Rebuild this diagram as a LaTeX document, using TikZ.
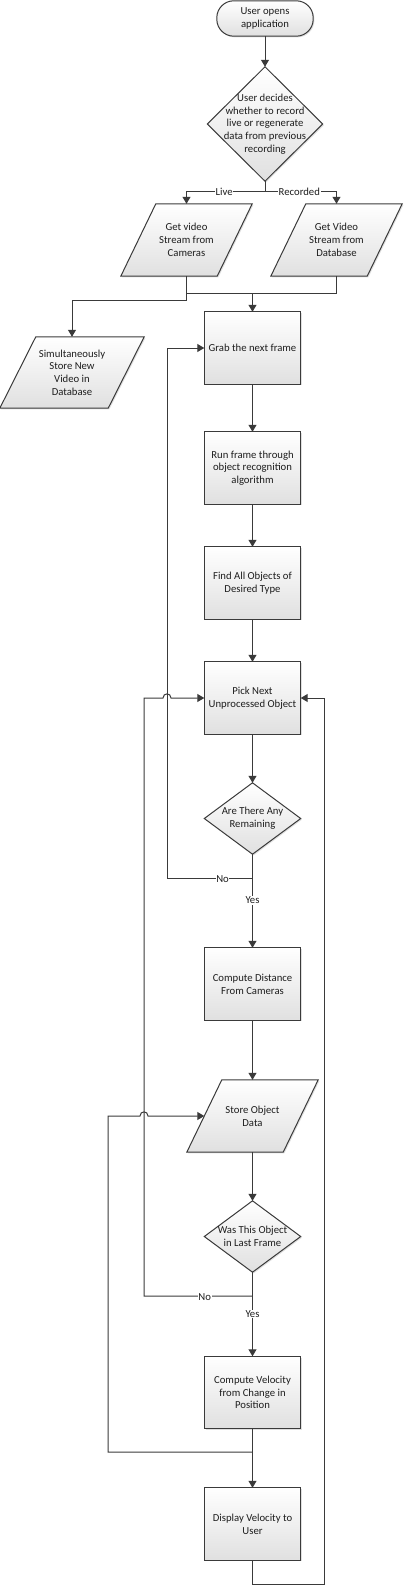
\documentclass[tikz,border=0pt]{standalone}
\usepackage{fontspec}
\setmainfont{Carlito}
\usetikzlibrary{arrows.meta,shadows}
\definecolor{ln}{HTML}{3A3A3A}
\definecolor{tx}{HTML}{1E1E1E}
\definecolor{fillbot}{HTML}{E0E0E0}
\tikzset{
  holder/.style={draw=none,inner sep=0pt,align=center,text=tx,font=\fontsize{10.7}{12.7}\selectfont},
  shp/.style={draw=ln,line width=1pt,top color=white,bottom color=fillbot,
     drop shadow={shadow xshift=1.2pt,shadow yshift=-1.2pt,opacity=0.25,fill=gray}},
  conn/.style={draw=ln,line width=1pt},
  arr/.style={conn,-{Triangle[width=8pt,length=7pt]}},
  lbl/.style={fill=white,inner sep=0.8pt,text=tx,font=\fontsize{10.7}{12}\selectfont}
}
\begin{document}
\begin{tikzpicture}[x=1pt,y=-1pt]
\useasboundingbox (0,0) rectangle (405,1586);
% ---------- nodes (holders) ----------
\node[holder,minimum width=96,minimum height=35] (start) at (265,18.5) {};
\node[holder,minimum width=115,minimum height=114] (dec) at (265,124) {};
\node[holder,minimum width=131,minimum height=72] (cam) at (186.5,240) {};
\node[holder,minimum width=131,minimum height=72] (db) at (336.5,240) {};
\node[holder,minimum width=144,minimum height=71] (store) at (72,372.5) {};
\node[holder,minimum width=96,minimum height=72] (grab) at (252.5,348) {};
\node[holder,minimum width=96,minimum height=72] (run) at (252.5,468) {};
\node[holder,minimum width=96,minimum height=72] (find) at (252.5,583) {};
\node[holder,minimum width=96,minimum height=72] (pick) at (252.5,698) {};
\node[holder,minimum width=96,minimum height=71] (rem) at (252.5,818.5) {};
\node[holder,minimum width=96,minimum height=72] (dist) at (252.5,984) {};
\node[holder,minimum width=131,minimum height=72] (sod) at (252.5,1116) {};
\node[holder,minimum width=96,minimum height=71] (last) at (252.5,1236.5) {};
\node[holder,minimum width=96,minimum height=72] (vel) at (252.5,1392.5) {};
\node[holder,minimum width=96,minimum height=72] (disp) at (252.5,1524) {};
% ---------- shapes ----------
\path[shp,rounded corners=17pt] (start.north west) rectangle (start.south east);
\path[shp] (dec.north) -- (dec.east) -- (dec.south) -- (dec.west) -- cycle;
\foreach \n in {cam,db,sod}{
  \path[shp] ([xshift=35]\n.north west) -- (\n.north east) -- ([xshift=-35]\n.south east) -- (\n.south west) -- cycle;
}
\path[shp] ([xshift=36]store.north west) -- (store.north east) -- ([xshift=-36]store.south east) -- (store.south west) -- cycle;
\foreach \n in {grab,run,find,pick,dist,vel,disp}{
  \path[shp] (\n.north west) rectangle (\n.south east);
}
\path[shp] (rem.north) -- (rem.east) -- (rem.south) -- (rem.west) -- cycle;
\path[shp] (last.north) -- (last.east) -- (last.south) -- (last.west) -- cycle;
% ---------- texts ----------
\node[holder] at (start) {User opens\\application};
\node[holder] at (dec) {User decides\\whether to record\\live or regenerate\\data from previous\\recording};
\node[holder] at (cam) {Get video\\Stream from\\Cameras};
\node[holder] at (db) {Get Video\\Stream from\\Database};
\node[holder] at (store) {Simultaneously\\Store New\\Video in\\Database};
\node[holder] at (grab) {Grab the next frame};
\node[holder] at (run) {Run frame through\\object recognition\\algorithm};
\node[holder] at (find) {Find All Objects of\\Desired Type};
\node[holder] at (pick) {Pick Next\\Unprocessed Object};
\node[holder] at (rem) {Are There Any\\Remaining};
\node[holder] at (dist) {Compute Distance\\From Cameras};
\node[holder] at (sod) {Store Object\\Data};
\node[holder] at (last) {Was This Object\\in Last Frame};
\node[holder] at (vel) {Compute Velocity\\from Change in\\Position};
\node[holder] at (disp) {Display Velocity to\\User};
% ---------- junction coordinates ----------
\coordinate (br) at (265,192);
\coordinate (j1) at (252.5,294);
\coordinate (j2) at (186.5,301);
\coordinate (n1) at (252.5,878);
\coordinate (n2) at (252.5,1296);
\coordinate (v1) at (252.5,1452);
\coordinate (d1) at (252.5,1584);
% ---------- connectors ----------
\draw[arr] (start) -- (dec.north);
\draw[arr] (dec.south) -- (br) -| node[lbl,pos=0.26] {Live} (cam.north);
\draw[arr] (br) -| node[lbl,pos=0.24] {Recorded} (db.north);
\draw[conn] (cam.south) |- (j1);
\draw[conn] (db.south) |- (j1);
\draw[arr] (cam.south) -- (j2) -| (store.north);
\draw[arr] (j1) -- (grab.north);
\draw[arr] (grab) -- (run);
\draw[arr] (run) -- (find);
\draw[arr] (find) -- (pick);
\draw[arr] (pick) -- (rem.north);
\draw[conn] (rem.south) -- (n1);
\draw[arr] (n1) -- node[lbl,pos=0.32] {Yes} (dist.north);
\draw[arr] (n1) -- node[lbl,pos=0.35,inner sep=0.5pt,yshift=-1pt] {No} (167,878) -- (167,348) -- (grab.west);
\draw[arr] (dist) -- (sod.north);
\draw[arr] (sod.south) -- (last.north);
\draw[conn] (last.south) -- (n2);
\draw[arr] (n2) -- node[lbl,pos=0.3] {Yes} (vel.north);
\draw[arr] (n2) -- node[lbl,pos=0.44,inner sep=0.5pt,yshift=-1pt] {No} (144,1296) -- (144,698) -- (163,698)
  .. controls (163,692.5) and (171,692.5) .. (171,698) -- (pick.west);
\draw[conn] (vel.south) -- (v1);
\draw[arr] (v1) -- (disp.north);
\draw[arr] (v1) -- (108,1452) -- (108,1116) -- (140,1116)
  .. controls (140,1110.5) and (148,1110.5) .. (148,1116) -- ([xshift=17.5]sod.west);
\draw[arr] (disp.south) -- (d1) -- (324,1584) -- (324,698) -- (pick.east);
\end{tikzpicture}
\end{document}
